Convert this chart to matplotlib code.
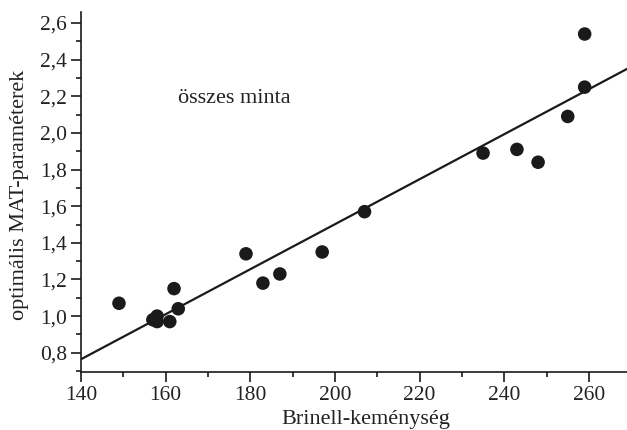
import numpy as np
import matplotlib
matplotlib.use("Agg")
import matplotlib.pyplot as plt
from matplotlib.ticker import MultipleLocator, FuncFormatter

# Brinell hardness vs. optimal MAT parameter (all samples)
brinell = [149, 157, 158, 158, 161, 162, 163, 179, 183, 187, 197, 207,
           235, 243, 248, 255, 259, 259]
mat_param = [1.07, 0.98, 1.00, 0.97, 0.97, 1.15, 1.04, 1.34, 1.18, 1.23, 1.35, 1.57,
             1.89, 1.91, 1.84, 2.09, 2.25, 2.54]

# fitted line
fit_slope = 0.01229
fit_intercept = 0.764 - 0.01229 * 140

x_ticks = [140, 160, 180, 200, 220, 240, 260]
y_ticks = [0.8, 1.0, 1.2, 1.4, 1.6, 1.8, 2.0, 2.2, 2.4, 2.6]

plt.rcParams['font.family'] = ['Liberation Serif', 'DejaVu Serif']
col = '#1a1a1a'
txt = '#222222'

fig = plt.figure(figsize=(6.27, 4.30), dpi=100)
ax = fig.add_axes([0.129, 0.135, 0.871, 0.837])

line_x = np.array([138, 272])
ax.plot(line_x, fit_intercept + fit_slope * line_x, color=col, lw=1.6, zorder=2)
ax.scatter(brinell, mat_param, s=95, color=col, edgecolor='none', zorder=3)

ax.set_xlim(140, 269)
ax.set_ylim(0.695, 2.66)
ax.set_xticks(x_ticks)
ax.set_yticks(y_ticks)
ax.xaxis.set_minor_locator(MultipleLocator(10))
ax.yaxis.set_minor_locator(MultipleLocator(0.1))
ax.yaxis.set_major_formatter(FuncFormatter(lambda v, p: f"{v:.1f}".replace('.', ',')))

for s in ['top', 'right']:
    ax.spines[s].set_visible(False)
for s in ['left', 'bottom']:
    ax.spines[s].set_linewidth(1.2)
    ax.spines[s].set_color(col)

ax.tick_params(which='major', direction='out', length=7, width=1.2, color=col,
               labelsize=15.5, labelcolor=txt)
ax.tick_params(which='minor', direction='out', length=3.5, width=1.2, color=col)
ax.tick_params(axis='y', pad=3)
ax.tick_params(axis='x', pad=3)

ax.text(162.9, 2.19, 'összes minta', fontsize=16, color=txt, va='center')

fig.text(0.584, 0.024, 'Brinell-keménység', fontsize=16, color=txt,
         ha='center', va='center')
fig.text(0.031, 0.547, 'optimális MAT-paraméterek', fontsize=16, color=txt,
         ha='center', va='center', rotation=90)

fig.savefig('out.png', dpi=100)
